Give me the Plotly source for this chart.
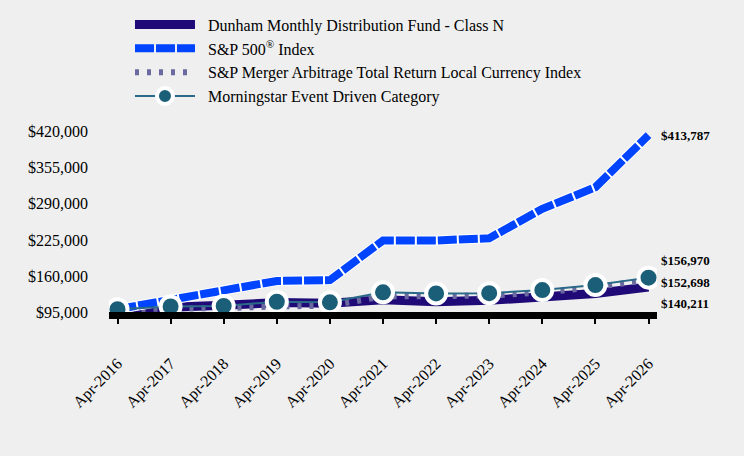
import plotly.graph_objects as go

dates = ["Apr-2016", "Apr-2017", "Apr-2018", "Apr-2019", "Apr-2020", "Apr-2021",
         "Apr-2022", "Apr-2023", "Apr-2024", "Apr-2025", "Apr-2026"]
dunham = [100000, 105500, 107000, 112000, 111000, 117000, 113500, 116000, 121000, 128500, 140211]
sp500 = [100000, 117000, 132000, 151000, 152500, 224000, 224000, 228000, 281000, 320000, 413787]
merger = [100000, 100500, 102000, 105000, 106500, 123000, 124000, 124500, 130000, 140000, 152698]
morningstar = [100000, 105000, 106000, 113500, 112500, 130500, 128500, 129000, 134500, 143500, 156970]

names = ["Dunham Monthly Distribution Fund - Class N", "S&P 500<sup>®</sup> Index",
         "S&P Merger Arbitrage Total Return Local Currency Index", "Morningstar Event Driven Category"]
end_labels = ["$140,211", "$413,787", "$152,698", "$156,970"]
yticks = [95000, 160000, 225000, 290000, 355000, 420000]
yticktext = ["$95,000", "$160,000", "$225,000", "$290,000", "$355,000", "$420,000"]

FONT = "Times New Roman, Liberation Serif, serif"
BG = "#efefef"
PAD = "&nbsp;&nbsp;"

L, R, T, B = 109, 86.5, 129.2, 144
PW, PH = 744 - L - R, 456 - T - B

fig = go.Figure()
fig.add_trace(go.Scatter(x=dates, y=dunham, name=PAD + names[0], mode="lines",
                         line=dict(color="#1f0a78", width=9), legendrank=1))
fig.add_trace(go.Scatter(x=dates, y=merger, name=PAD + names[2], mode="lines",
                         line=dict(color="#6b6aa0", width=6, dash="4px,8px"), legendrank=3))
fig.add_trace(go.Scatter(x=dates, y=sp500, mode="lines", showlegend=False, hoverinfo="skip",
                         line=dict(color="white", width=10)))
fig.add_trace(go.Scatter(x=dates, y=sp500, name=PAD + names[1], mode="lines",
                         line=dict(color="#0044ff", width=8, dash="19px,2px"), legendrank=2))
fig.add_trace(go.Scatter(x=dates, y=morningstar, name=PAD + names[3], mode="lines+markers",
                         line=dict(color="#2a6a88", width=2),
                         marker=dict(size=20, color="#1b5e78", line=dict(color="white", width=4)),
                         legendrank=4))

series = [dunham, sp500, merger, morningstar]
shifts = [-17, 0, -2, 17]
for s, lab, sh in zip(series, end_labels, shifts):
    fig.add_annotation(x=dates[-1], y=s[-1], text="<b>" + lab + "</b>", showarrow=False,
                       xanchor="left", xshift=10, yshift=sh,
                       font=dict(family=FONT, size=13, color="black"))

fig.update_layout(
    width=744, height=456,
    margin=dict(l=L, r=R, t=T, b=B, autoexpand=False),
    paper_bgcolor=BG, plot_bgcolor=BG,
    font=dict(family=FONT, size=16, color="black"),
    showlegend=True,
    legend=dict(x=(130 - L) / PW, y=(456 - B - 8) / PH,
                xanchor="left", yanchor="top", bgcolor="rgba(0,0,0,0)",
                itemwidth=60, font=dict(family=FONT, size=16, color="black"),
                traceorder="normal"),
)
fig.update_xaxes(type="category", range=[-0.16, 10.16], automargin=False,
                 showline=True, linecolor="black", linewidth=7,
                 ticks="outside", ticklen=5, tickwidth=2, tickcolor="black",
                 tickangle=-45, ticklabelstandoff=24, showgrid=False, zeroline=False,
                 layer="below traces", tickfont=dict(family=FONT, size=16, color="black"))
fig.update_yaxes(range=[95000, 425000], tickmode="array", tickvals=yticks, ticktext=yticktext,
                 automargin=False,
                 showgrid=False, zeroline=False, showline=False, ticks="",
                 ticklabelstandoff=20, tickfont=dict(family=FONT, size=16, color="black"))

fig.write_html("out.html")
